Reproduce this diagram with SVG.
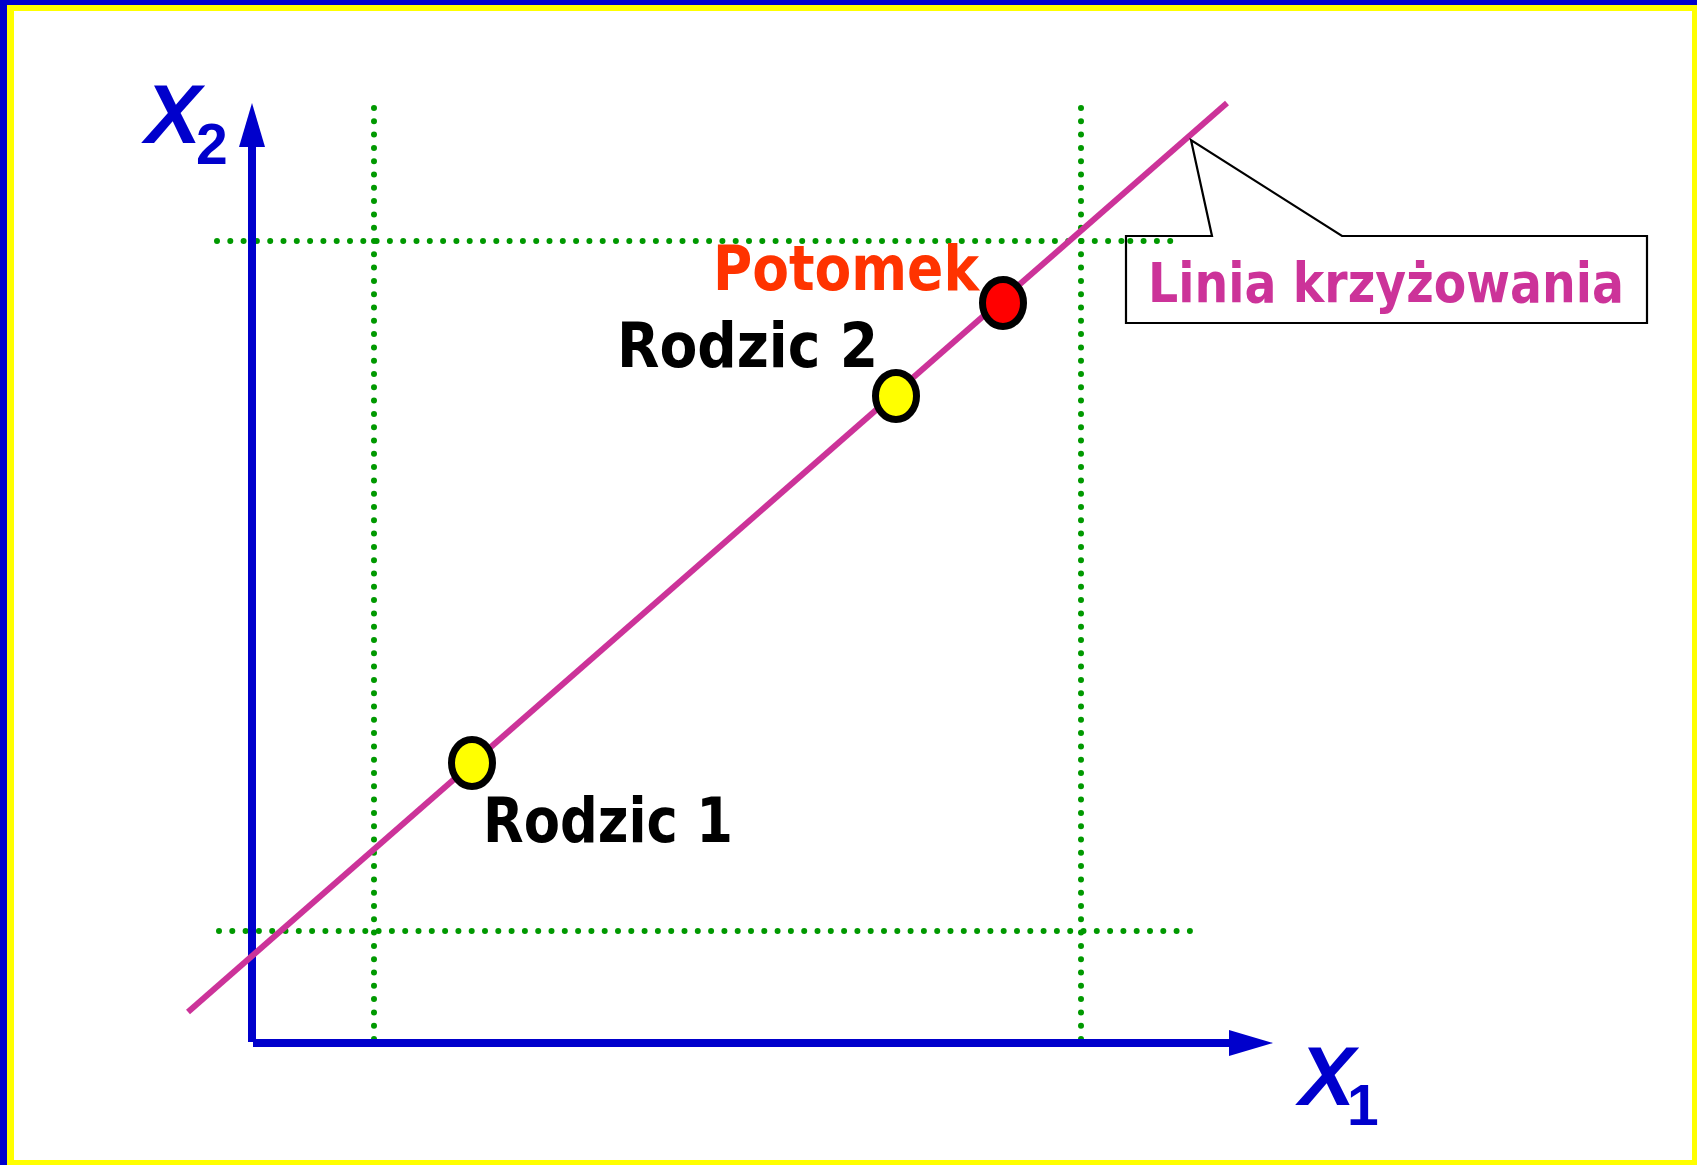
<svg xmlns="http://www.w3.org/2000/svg" width="1697" height="1165" viewBox="0 0 1697 1165">
<style>
.lbl{font-family:"DejaVu Sans","Verdana",sans-serif;font-weight:bold}
.ax{font-family:"Liberation Sans",Arial,sans-serif;font-weight:bold;fill:#0000CC}
.grid{stroke:#009900;stroke-width:6;stroke-linecap:round;stroke-dasharray:0 13.3;fill:none}
.axis{stroke:#0000CC;stroke-width:8;fill:none}
.pt{stroke:#000;stroke-width:7}
</style>
<defs>
<marker id="ah" markerUnits="userSpaceOnUse" markerWidth="48" markerHeight="30" refX="0" refY="13" orient="auto" viewBox="0 0 48 26">
<path d="M0,0 L44,13 L0,26 Z" fill="#0000CC"/>
</marker>
</defs>
<rect x="0" y="0" width="1697" height="1165" fill="#0000CC"/>
<rect x="7" y="5" width="1690" height="1160" fill="#FFFF00"/>
<rect x="14" y="11" width="1678" height="1149" fill="#FFFFFF"/>

<g id="grid">
<line class="grid" x1="374" y1="108" x2="374" y2="1048"/>
<line class="grid" x1="1081" y1="108" x2="1081" y2="1048"/>
<line class="grid" x1="217" y1="241" x2="1172" y2="241"/>
<line class="grid" x1="219" y1="931" x2="1190" y2="931"/>
</g>

<g id="connectors">
<line class="axis" x1="252" y1="1042" x2="252" y2="147" marker-end="url(#ah)"/>
<line class="axis" x1="253" y1="1043" x2="1229" y2="1043" marker-end="url(#ah)"/>
<line x1="188" y1="1012" x2="1227" y2="103" stroke="#CC3399" stroke-width="6"/>
</g>

<g id="callout">
<path d="M1126,236 L1212,236 L1191,140 L1342,236 L1647,236 L1647,323 L1126,323 Z" fill="#FFFFFF" stroke="#000" stroke-width="2.2"/>
<line class="grid" x1="1126" y1="241" x2="1172" y2="241" stroke-dashoffset="-4.3"/>
<text class="lbl" x="1148" y="302" font-size="55" fill="#CC3399" textLength="476" lengthAdjust="spacingAndGlyphs">Linia krzyżowania</text>
</g>

<g id="rodzic1">
<ellipse class="pt" cx="472" cy="763" rx="20.5" ry="23.5" fill="#FFFF00"/>
<text class="lbl" x="483" y="842" font-size="62" fill="#000" textLength="250" lengthAdjust="spacingAndGlyphs">Rodzic 1</text>
</g>

<g id="rodzic2">
<ellipse class="pt" cx="896" cy="396" rx="20.5" ry="23.5" fill="#FFFF00"/>
<text class="lbl" x="617" y="367" font-size="62" fill="#000" textLength="261" lengthAdjust="spacingAndGlyphs">Rodzic 2</text>
</g>

<g id="potomek">
<ellipse class="pt" cx="1003" cy="303" rx="20.5" ry="23.5" fill="#FF0000"/>
<text class="lbl" x="713" y="290" font-size="62" fill="#FF3300" textLength="266" lengthAdjust="spacingAndGlyphs">Potomek</text>
</g>

<g id="x2label">
<text class="ax" x="145" y="143" font-size="84" font-style="italic">X</text>
<text class="ax" x="196" y="164" font-size="57">2</text>
</g>

<g id="x1label">
<text class="ax" x="1299" y="1105" font-size="84" font-style="italic">X</text>
<text class="ax" x="1347" y="1125" font-size="57">1</text>
</g>
</svg>
